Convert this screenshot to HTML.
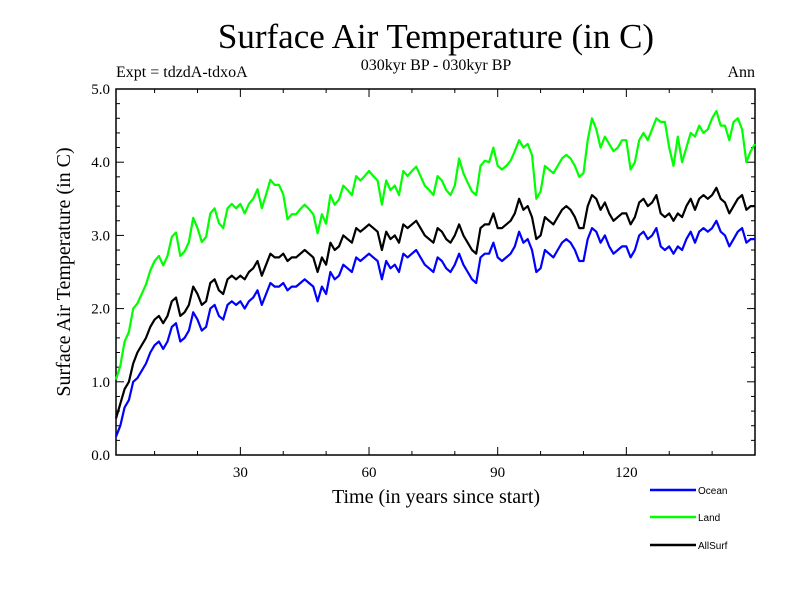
<!DOCTYPE html>
<html><head><meta charset="utf-8"><style>
html,body{margin:0;padding:0;background:#fff;}
svg text{font-family:"Liberation Serif",serif;}
</style></head><body>
<svg id="chart" width="800" height="600" viewBox="0 0 800 600" xmlns="http://www.w3.org/2000/svg">
<rect width="800" height="600" fill="#fff"/>
<text x="436" y="48" font-size="35" text-anchor="middle">Surface Air Temperature (in C)</text>
<text x="436" y="70" font-size="16" text-anchor="middle">030kyr BP - 030kyr BP</text>
<text x="116" y="77" font-size="16">Expt = tdzdA-tdxoA</text>
<text x="755" y="77" font-size="16" text-anchor="end">Ann</text>
<text transform="translate(70,272) rotate(-90)" font-size="20" text-anchor="middle">Surface Air Temperature (in C)</text>
<text x="436" y="503" font-size="20" text-anchor="middle">Time (in years since start)</text>
<g id="axes"></g>
<g id="series"></g>
<g id="legend"></g>
</svg>
<script>
const years=[];for(let i=1;i<=150;i++)years.push(i);
const ocean=[.25,.4,.65,.75,1.0,1.05,1.15,1.25,1.4,1.5,1.55,1.45,1.55,1.75,1.8,1.55,1.6,1.7,1.95,1.85,1.7,1.75,2.0,2.05,1.9,1.85,2.05,2.1,2.05,2.1,
2.0,2.1,2.15,2.25,2.05,2.2,2.35,2.3,2.3,2.35,2.25,2.3,2.3,2.35,2.4,2.35,2.3,2.1,2.3,2.2,2.5,2.4,2.45,2.6,2.55,2.5,2.7,2.65,2.7,2.75,
2.7,2.65,2.4,2.65,2.55,2.6,2.5,2.75,2.7,2.75,2.8,2.7,2.6,2.55,2.5,2.7,2.65,2.55,2.5,2.6,2.75,2.6,2.5,2.4,2.35,2.7,2.75,2.75,2.9,2.7,
2.65,2.7,2.75,2.85,3.05,2.9,2.95,2.8,2.5,2.55,2.8,2.75,2.7,2.8,2.9,2.95,2.9,2.8,2.65,2.65,2.95,3.1,3.05,2.9,3.0,2.85,2.75,2.8,2.85,2.85,
2.7,2.8,3.0,3.05,2.95,3.0,3.1,2.85,2.8,2.85,2.75,2.85,2.8,2.95,3.05,2.9,3.05,3.1,3.05,3.1,3.2,3.05,3.0,2.85,2.95,3.05,3.1,2.9,2.95,2.95];
const land=[1.03,1.22,1.55,1.68,2.0,2.07,2.2,2.33,2.52,2.65,2.72,2.59,2.72,2.98,3.04,2.72,2.78,2.91,3.24,3.1,2.91,2.98,3.3,3.37,3.17,3.1,3.37,3.43,3.37,3.43,
3.3,3.43,3.5,3.63,3.37,3.56,3.76,3.69,3.69,3.56,3.22,3.29,3.29,3.36,3.42,3.36,3.29,3.03,3.29,3.16,3.55,3.42,3.49,3.68,3.62,3.55,3.81,3.75,3.81,3.88,
3.81,3.75,3.42,3.75,3.62,3.68,3.55,3.88,3.81,3.88,3.94,3.81,3.68,3.62,3.55,3.81,3.75,3.62,3.55,3.68,4.05,3.85,3.72,3.6,3.55,3.95,4.02,4.0,4.2,3.95,
3.9,3.95,4.02,4.15,4.3,4.2,4.25,4.1,3.5,3.6,3.95,3.9,3.85,3.95,4.05,4.1,4.05,3.95,3.8,3.85,4.3,4.6,4.45,4.2,4.35,4.25,4.15,4.2,4.3,4.3,
3.9,4.0,4.3,4.4,4.3,4.45,4.6,4.55,4.55,4.2,3.95,4.35,4.0,4.2,4.4,4.35,4.5,4.4,4.45,4.6,4.7,4.5,4.5,4.3,4.55,4.6,4.45,4.0,4.15,4.25];
const allsurf=[.5,.7,.9,1.0,1.25,1.4,1.5,1.6,1.75,1.85,1.9,1.8,1.9,2.1,2.15,1.9,1.95,2.05,2.3,2.2,2.05,2.1,2.35,2.4,2.25,2.2,2.4,2.45,2.4,2.45,
2.4,2.5,2.55,2.65,2.45,2.6,2.75,2.7,2.7,2.75,2.65,2.7,2.7,2.75,2.8,2.75,2.7,2.5,2.7,2.6,2.9,2.8,2.85,3.0,2.95,2.9,3.1,3.05,3.1,3.15,
3.1,3.05,2.8,3.05,2.95,3.0,2.9,3.15,3.1,3.15,3.2,3.1,3.0,2.95,2.9,3.1,3.05,2.95,2.9,3.0,3.15,3.0,2.9,2.8,2.75,3.1,3.15,3.15,3.3,3.1,
3.1,3.15,3.2,3.3,3.5,3.35,3.4,3.25,2.95,3.0,3.25,3.2,3.15,3.25,3.35,3.4,3.35,3.25,3.1,3.1,3.4,3.55,3.5,3.35,3.45,3.3,3.2,3.25,3.3,3.3,
3.15,3.25,3.45,3.5,3.4,3.45,3.55,3.3,3.25,3.3,3.2,3.3,3.25,3.4,3.5,3.35,3.5,3.55,3.5,3.55,3.65,3.5,3.45,3.3,3.4,3.5,3.55,3.35,3.4,3.4];
const yTicks=[0,1,2,3,4,5];
const yTickLabels=["0.0","1.0","2.0","3.0","4.0","5.0"];
const xTicks=[30,60,90,120];
const xTickLabels=["30","60","90","120"];
const seriesNames=["Ocean","Land","AllSurf"];

const L=116,R=755,T=89,B=455,X0=1,X1=150,Y0=0,Y1=5;
const sx=v=>L+(v-X0)/(X1-X0)*(R-L);
const sy=v=>B-(v-Y0)/(Y1-Y0)*(B-T);
const NS="http://www.w3.org/2000/svg";
function mk(tag,attrs,parent){const e=document.createElementNS(NS,tag);for(const k in attrs)e.setAttribute(k,attrs[k]);parent.appendChild(e);return e;}
const axes=document.getElementById('axes');
const frame=mk('rect',{x:L,y:T,width:R-L,height:B-T,fill:'none',stroke:'#000','stroke-width':1.5},axes);


for(let v=0;v<=5.0001;v+=0.2){
  const y=sy(v);const major=Math.abs(v-Math.round(v))<1e-6;const len=major?8:4;
  const t1=mk('line',{x1:L,x2:L+len,y1:y,y2:y,stroke:'#000','stroke-width':1},axes);
  
  
  const t2=mk('line',{x1:R,x2:R-len,y1:y,y2:y,stroke:'#000','stroke-width':1},axes);
  
  
}
yTicks.forEach((v,i)=>{const t=mk('text',{x:L-6,y:sy(v)+5,'font-size':15,'text-anchor':'end'},axes);t.textContent=yTickLabels[i];
  
  });
for(let v=10;v<150;v+=10){
  const x=sx(v);const major=v%30===0;const len=major?8:4;
  const t1=mk('line',{x1:x,x2:x,y1:B,y2:B-len,stroke:'#000','stroke-width':1},axes);
  
  
  const t2=mk('line',{x1:x,x2:x,y1:T,y2:T+len,stroke:'#000','stroke-width':1},axes);
  
  
}
xTicks.forEach((v,i)=>{const t=mk('text',{x:sx(v),y:B+22,'font-size':15,'text-anchor':'middle'},axes);t.textContent=xTickLabels[i];
  
  });
const sg=document.getElementById('series');
const data=[ocean,land,allsurf];const colors=['#0000ff','#00ff00','#000000'];
[1,2,0].forEach(k=>{
  const pts=data[k].map((v,i)=>sx(years[i]).toFixed(1)+','+sy(v).toFixed(1)).join(' ');
  const p=mk('polyline',{points:pts,fill:'none',stroke:colors[k],'stroke-width':2.2,'stroke-linejoin':'round'},sg);
  
  
});
const lg=document.getElementById('legend');
const ly=[490,517,545];
seriesNames.forEach((n,i)=>{
  const l=mk('line',{x1:650,x2:696,y1:ly[i],y2:ly[i],stroke:colors[i],'stroke-width':2.5},lg);
  
  
  const t=mk('text',{x:698,y:ly[i]+4,'font-size':10,style:'font-family:"Liberation Sans",sans-serif'},lg);t.textContent=n;
  
  
});
</script>
</body></html>
